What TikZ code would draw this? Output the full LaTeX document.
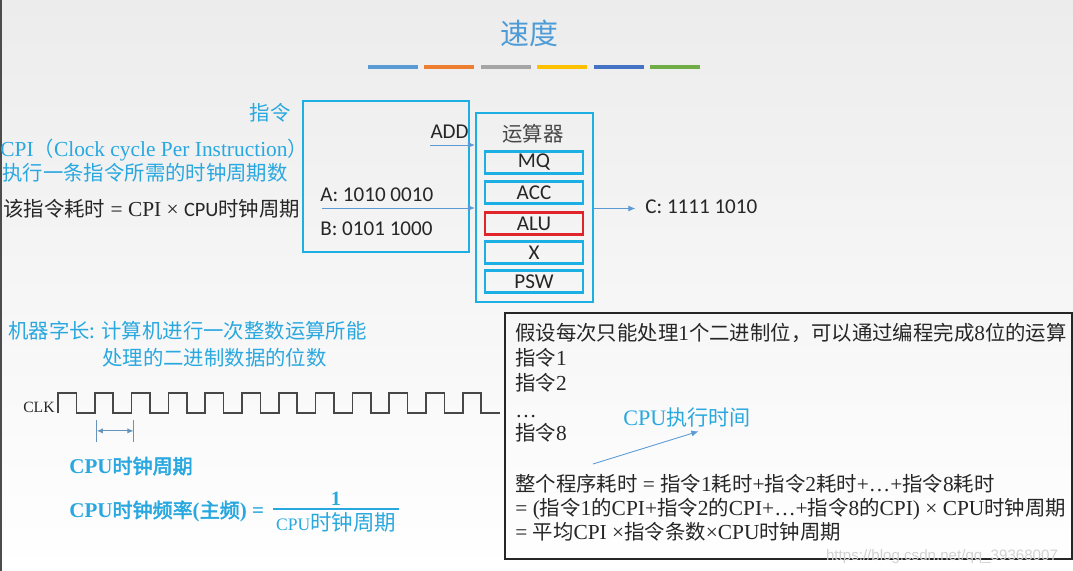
\documentclass[tikz,border=0pt]{standalone}
\usepackage{fontspec}
\setmainfont[Scale=1.05]{Liberation Serif}
\newfontfamily\sansfont{Carlito}
\newfontfamily\zhfont[AutoFakeBold=2.5]{Noto Sans CJK SC}
\newfontfamily\urlfont{Liberation Sans}
\newcommand{\zh}[1]{{\zhfont #1}}
\usetikzlibrary{arrows.meta,positioning}

\definecolor{bgtop}{HTML}{ECECEC}
\definecolor{titleblue}{HTML}{4D9CD8}
\definecolor{boxcyan}{HTML}{1CAFE4}
\definecolor{textblue}{HTML}{29A8E0}
\definecolor{arrowblue}{HTML}{5B9BD5}
\definecolor{alured}{HTML}{E0242A}
\definecolor{darktxt}{HTML}{262626}
\definecolor{barblue}{HTML}{5B9BD5}
\definecolor{barorange}{HTML}{ED7D31}
\definecolor{bargray}{HTML}{A5A5A5}
\definecolor{baryellow}{HTML}{FFC000}
\definecolor{bardark}{HTML}{4472C4}
\definecolor{bargreen}{HTML}{70AD47}

\begin{document}
\begin{tikzpicture}[x=0.02cm,y=-0.02cm,
    font=\fontsize{11.6}{13.9}\selectfont,
    txt/.style={inner sep=0pt, text height=0.75em, text depth=0.2em, yshift=-2pt},
    sanstxt/.style={txt, font=\sansfont\fontsize{12}{14}\selectfont, text=darktxt},
    cyanbox/.style={draw=boxcyan, line width=1.3pt},
    regbox/.style={cyanbox, minimum width=1.96cm, minimum height=0.44cm, inner sep=0pt,
        font=\sansfont\fontsize{12}{14}\selectfont, text=darktxt},
    thinarrow/.style={draw=arrowblue, line width=0.5pt, -{Latex[length=4pt,width=3.5pt]}},
    markline/.style={draw=arrowblue!70!gray, line width=0.6pt},
    clkline/.style={draw=darktxt!85, line width=0.9pt},
  ]
    \useasboundingbox (0,0) rectangle (1073,571);
    % slide background
    \shade[top color=bgtop, bottom color=white] (0,0) rectangle (1073,571);
    \draw[gray!60!black, line width=1.1pt] (0.6,0) -- (0.6,571);

    % Title and colour bars
    \node[txt, text=titleblue, font=\zhfont\fontsize{16.5}{18}\selectfont, yshift=-1.5pt] (title) at (529,33) {速度};
    \foreach \c [count=\i from 0] in {barblue,barorange,bargray,baryellow,bardark,bargreen}
        \draw[\c, line width=2.8pt] (368+56.4*\i,67) -- ++(50,0);

    % CPI explanation
    \node[txt, anchor=east, text=textblue] (zhiling) at (291,112) {\zh{指令}};
    \node[txt, anchor=west, text=textblue] (cpi) at (0,148) {CPI\zh{（}Clock cycle Per Instruction\zh{）}};
    \node[txt, anchor=west, text=textblue] (cpidef) at (2,172) {\zh{执行一条指令所需的时钟周期数}};
    \node[txt, anchor=west, text=darktxt] (cost) at (3,208) {\zh{该指令耗时} = CPI × {\sansfont CPU}\zh{时钟周期}};

    % Instruction box
    \node[cyanbox, minimum width=3.32cm, minimum height=3.02cm] (ins) at (386,176.5) {};
    \node[sanstxt, anchor=east] (add) at (469,130) {ADD};
    \node[sanstxt, anchor=west] (opa) at (320,193) {A: 1010 0010};
    \node[sanstxt, anchor=west] (opb) at (320,227) {B: 0101 1000};

    % ALU with registers
    \node[cyanbox, minimum width=2.34cm, minimum height=3.78cm] (alu) at (534.5,207.5) {};
    \node[txt, text=darktxt!85] (alutitle) at (533,133) {\zh{运算器}};
    \foreach \r/\y/\c in {MQ/162.5/boxcyan, ACC/192.5/boxcyan, ALU/223.5/alured, X/252.5/boxcyan, PSW/281.5/boxcyan}
        \node[regbox, draw=\c] (\r) at (534,\y) {\r};

    \coordinate (addin) at (430,145);
    \coordinate (opin) at (322,208);
    \draw[thinarrow] (addin) -- (addin -| alu.west);
    \draw[thinarrow] (opin) -- (opin -| alu.west);
    \node[sanstxt, anchor=west] (res) at (645,205) {C: 1111 1010};
    \draw[thinarrow, shorten >=5.5pt] (alu.east |- res.west) -- (res.west);

    % Word length
    \node[txt, anchor=west, text=textblue] (wordlen) at (8,330) {\zh{机器字长: 计算机进行一次整数运算所能}};
    \node[txt, anchor=west, text=textblue] (wordlen2) at (102,357) {\zh{处理的二进制数据的位数}};

    % Clock signal
    \node[txt, anchor=east, text=darktxt, font=\fontsize{8.5}{10}\selectfont] (clk) at (55,404) {CLK};
    \coordinate (w0) at (58,413);
    \draw[clkline] (w0) \foreach \i in {1,...,12} { -- ++(0,-20) -- ++(18.4,0) -- ++(0,20) -- ++(18.4,0) };
    \coordinate (t1) at (96.8,420);
    \coordinate (t2) at (133.6,420);
    \draw[markline] (t1) -- ++(0,22);
    \draw[markline] (t2) -- ++(0,22);
    \draw[markline, {Latex[length=3.5pt,width=3pt]}-{Latex[length=3.5pt,width=3pt]}] ([yshift=-6.2pt]t1) -- ([yshift=-6.2pt]t2);

    % Clock period and frequency
    \node[txt, anchor=west, text=textblue, font=\bfseries\fontsize{11.4}{14}\selectfont] (period) at (69,465) {CPU\zh{时钟周期}};
    \node[txt, anchor=west, text=textblue, font=\bfseries\fontsize{11.4}{14}\selectfont] (freq) at (69,509) {CPU\zh{时钟频率}(\zh{主频}) =};
    \node[txt, text=textblue, font=\bfseries\fontsize{11}{13}\selectfont] (num) at (336,497) {1};
    \coordinate (fl) at (273,509);
    \coordinate (fr) at (399,509);
    \draw[textblue, line width=1.2pt] (fl) -- (fr);
    \node[txt, text=textblue] (den) at (336,522) {{\fontsize{9.5}{11}\selectfont CPU}\zh{\fontsize{12.2}{14}\selectfont 时钟周期}};

    % Program execution time
    \draw[darktxt, line width=0.9pt] (505,313) rectangle (1072,559);
    \node[txt, anchor=west, text=darktxt] (l1) at (515,332) {\zh{假设每次只能处理}1\zh{个二进制位，可以通过编程完成}8\zh{位的运算}};
    \node[txt, anchor=west, text=darktxt] (l2) at (515,357) {\zh{指令}1};
    \node[txt, anchor=west, text=darktxt] (l3) at (515,382) {\zh{指令}2};
    \node[txt, anchor=west, text=darktxt] (l4) at (515,409) {…};
    \node[txt, anchor=west, text=darktxt] (l5) at (515,432) {\zh{指令}8};
    \node[txt, text=textblue, font=\fontsize{12}{14}\selectfont] (exec) at (687,417) {CPU\zh{执行时间}};
    \coordinate (exfrom) at (593,464);
    \draw[thinarrow] (exfrom) -- ([xshift=6.5pt,yshift=-1pt]exec.south);
    \node[txt, anchor=west, text=darktxt] (l6) at (515,483) {\zh{整个程序耗时} = \zh{指令}1\zh{耗时}+\zh{指令}2\zh{耗时}+…+\zh{指令}8\zh{耗时}};
    \node[txt, anchor=west, text=darktxt] (l7) at (515,507) {= (\zh{指令}1\zh{的}CPI+\zh{指令}2\zh{的}CPI+…+\zh{指令}8\zh{的}CPI) × CPU\zh{时钟周期}};
    \node[txt, anchor=west, text=darktxt] (l8) at (515,531) {= \zh{平均}CPI ×\zh{指令条数}×CPU\zh{时钟周期}};
    \node[txt, text=gray!35, font=\urlfont\fontsize{8.6}{10}\selectfont] (mark) at (942,552) {https://blog.csdn.net/qq\_39368007};
\end{tikzpicture}
\end{document}
